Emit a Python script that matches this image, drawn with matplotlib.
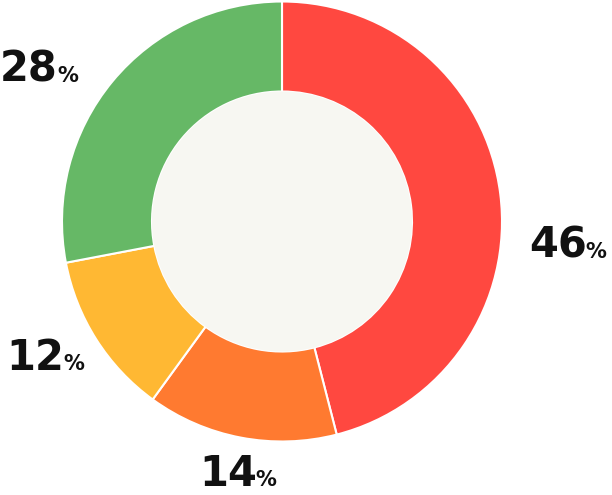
import matplotlib.pyplot as plt
from matplotlib.patches import Circle

labels = ['46', '14', '12', '28']
values = [46, 14, 12, 28]
colors = ['#ff4840', '#ff7a30', '#ffb833', '#66b866']

# label placement in pixels from top-left: (number left x, baseline y)
label_pos = [(529, 258), (199, 486), (6, 370), (0, 82)]

W, H = 612, 495
fig = plt.figure(figsize=(W / 100, H / 100), dpi=100)
ax = fig.add_axes([0, 0, 1, 1])

cx, cy = 282, H - 221.5
R, r = 220, 130

ax.pie(values, colors=colors, startangle=90, counterclock=False,
       center=(cx, cy), radius=R, frame=True,
       wedgeprops=dict(width=R - r, edgecolor='white', linewidth=1.5))
ax.add_patch(Circle((cx, cy), r, facecolor='#f7f7f2', edgecolor='none', zorder=5))
ax.set_xlim(0, W)
ax.set_ylim(0, H)
ax.axis('off')

nums = []
for lab, (xl, y) in zip(labels, label_pos):
    t = ax.text(xl, H - y, lab, ha='left', va='baseline', fontsize=30,
                fontweight='bold', color='#111111')
    nums.append((t, y))

# put the small % right after each number
fig.canvas.draw()
renderer = fig.canvas.get_renderer()
for t, y in nums:
    bb = t.get_window_extent(renderer)
    ax.text(bb.x1 - 1, H - y, '%', ha='left', va='baseline', fontsize=15,
            fontweight='bold', color='#111111')

fig.savefig('out.png', dpi=100)
